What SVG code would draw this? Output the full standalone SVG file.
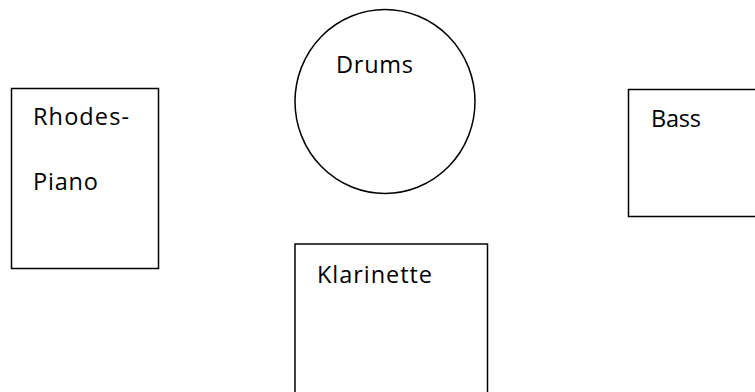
<svg xmlns="http://www.w3.org/2000/svg" width="755" height="392" viewBox="0 0 755 392">
<style>
.shape{fill:#fff;stroke:#000;stroke-width:1.5}
.lbl{font-family:"Open Sans","Liberation Sans",sans-serif;font-size:23.5px;fill:#000}
</style>
<rect width="755" height="392" fill="#fff"/>
<g id="rhodes-piano">
<rect class="shape" x="11.5" y="88.5" width="147" height="180"/>
<text class="lbl" x="33" y="125" textLength="96">Rhodes-</text>
<text class="lbl" x="33" y="190" textLength="65">Piano</text>
</g>
<g id="drums">
<ellipse class="shape" cx="385" cy="101.5" rx="90" ry="92"/>
<text class="lbl" x="336" y="72.5" textLength="77">Drums</text>
</g>
<g id="bass">
<rect class="shape" x="628.5" y="89.5" width="140" height="127"/>
<text class="lbl" x="651" y="126.5" textLength="50">Bass</text>
</g>
<g id="klarinette">
<rect class="shape" x="295" y="244" width="192.5" height="160"/>
<text class="lbl" x="317" y="283" textLength="115">Klarinette</text>
</g>
<g id="connectors"/>
</svg>
